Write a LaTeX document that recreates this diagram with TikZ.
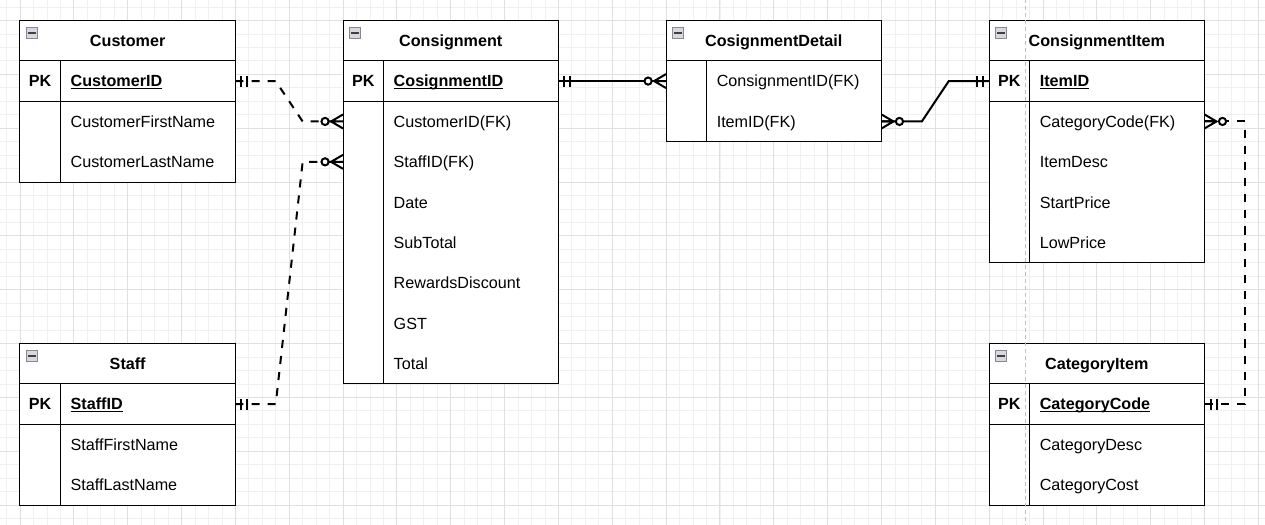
\documentclass[tikz,border=0pt]{standalone}
\usepackage{fontspec}
\setmainfont{Liberation Sans}
\usetikzlibrary{calc}
\definecolor{gridminor}{RGB}{240,240,240}
\definecolor{gridmajor}{RGB}{224,224,224}
\definecolor{pageline}{RGB}{192,192,192}
\definecolor{iconfill}{RGB}{216,216,222}
\definecolor{icondraw}{RGB}{135,135,150}
\newcommand{\keyul}[1]{\setbox0\hbox{#1}\rlap{\rule[-2pt]{\wd0}{1.3pt}}\box0}
\tikzset{
  tbl/.style={draw=black, fill=white, line width=1pt, rectangle, inner sep=0pt, outer sep=0pt, anchor=north west, minimum width=215.36pt},
  tblline/.style={draw=black, line width=1pt},
  titletxt/.style={font=\fontsize{16.15}{19}\selectfont\bfseries, inner sep=0pt, text height=11.6pt, text depth=0pt},
  rowtxt/.style={font=\fontsize{16.15}{19}\selectfont, inner sep=0pt, anchor=west, text height=11.6pt, text depth=0pt},
  keytxt/.style={rowtxt, font=\fontsize{16.15}{19}\selectfont\bfseries},
  icon/.style={draw=icondraw, fill=iconfill, line width=0.8pt, minimum width=11.4pt, minimum height=11pt, inner sep=0pt},
  iconbar/.style={draw=black!75, line width=1.8pt},
  gridmin/.style={draw=gridminor, line width=0.8pt},
  gridmaj/.style={draw=gridmajor, line width=0.9pt},
  conn/.style={draw=black, line width=2pt, line join=miter},
  erdash/.style={dash pattern=on 8.075pt off 8.075pt},
  mandone/.pic={\draw[solid, line width=2pt] (6pt,-5.5pt) -- (6pt,5.5pt) (12pt,-5.5pt) -- (12pt,5.5pt);},
  zeromany/.pic={\draw[solid, line width=2pt, line join=miter] (0,7pt) -- (12pt,0) -- (0,-7pt) (0,0) -- (12pt,0);
                 \draw[solid, line width=2pt, fill=white] (18pt,0) circle (3.6pt);},
}
\newcommand{\ertitle}[4]{%
  \node[titletxt] (#1-title) at (#2+80,#3+15) {#4};
  \node[icon] (#1-icon) at (#2+8.8,#3+9.1) {};
  \draw[iconbar] ([xshift=2.3pt]#1-icon.west) -- ([xshift=-2.3pt]#1-icon.east);
}
\begin{document}
\begin{tikzpicture}[x=1.346pt, y=-1.346pt]
\useasboundingbox (-14.859,-15.230) rectangle (924.96,374.07);
\fill[white] (-14.859,-15.230) rectangle (924.96,374.07);
% grid
\begin{scope}
\clip (-14.859,-15.230) rectangle (924.96,374.07);
\foreach \gx in {-10,0,...,930} \draw[gridmin] (\gx,-20) -- (\gx,380);
\foreach \gy in {-10,0,...,380} \draw[gridmin] (-20,\gy) -- (930,\gy);
\foreach \gx in {-40,0,...,920} \draw[gridmaj] (\gx,-20) -- (\gx,380);
\foreach \gy in {0,40,...,360} \draw[gridmaj] (-20,\gy) -- (930,\gy);
\end{scope}

% ---------- Customer ----------
\node[tbl, minimum height=161.52pt] (cust) at (0,0) {};
\draw[tblline] (0,30) -- (160,30) (0,60) -- (160,60) (30,30) -- (30,120);
\ertitle{cust}{0}{0}{Customer}
\node[titletxt] (cust-pkl) at (15,45) {PK};
\node[keytxt] (cust-pk) at (37.5,45) {\keyul{CustomerID}};
\node[rowtxt] (cust-r1) at (37.5,75) {CustomerFirstName};
\node[rowtxt] (cust-r2) at (37.5,105) {CustomerLastName};

% ---------- Staff ----------
\node[tbl, minimum height=161.52pt] (staff) at (0,240) {};
\draw[tblline] (0,270) -- (160,270) (0,300) -- (160,300) (30,270) -- (30,360);
\ertitle{staff}{0}{240}{Staff}
\node[titletxt] (staff-pkl) at (15,285) {PK};
\node[keytxt] (staff-pk) at (37.5,285) {\keyul{StaffID}};
\node[rowtxt] (staff-r1) at (37.5,315) {StaffFirstName};
\node[rowtxt] (staff-r2) at (37.5,345) {StaffLastName};

% ---------- Consignment ----------
\node[tbl, minimum height=363.42pt] (cons) at (240,0) {};
\draw[tblline] (240,30) -- (400,30) (240,60) -- (400,60) (270,30) -- (270,270);
\ertitle{cons}{240}{0}{Consignment}
\node[titletxt] (cons-pkl) at (255,45) {PK};
\node[keytxt] (cons-pk) at (277.5,45) {\keyul{CosignmentID}};
\node[rowtxt] (cons-r1) at (277.5,75) {CustomerID(FK)};
\node[rowtxt] (cons-r2) at (277.5,105) {StaffID(FK)};
\node[rowtxt] (cons-r3) at (277.5,135) {Date};
\node[rowtxt] (cons-r4) at (277.5,165) {SubTotal};
\node[rowtxt] (cons-r5) at (277.5,195) {RewardsDiscount};
\node[rowtxt] (cons-r6) at (277.5,225) {GST};
\node[rowtxt] (cons-r7) at (277.5,255) {Total};

% ---------- CosignmentDetail ----------
\node[tbl, minimum height=121.14pt] (det) at (480,0) {};
\draw[tblline] (480,30) -- (640,30) (510,30) -- (510,90);
\ertitle{det}{480}{0}{CosignmentDetail}
\node[rowtxt] (det-r0) at (517.5,45) {ConsignmentID(FK)};
\node[rowtxt] (det-r1) at (517.5,75) {ItemID(FK)};

% ---------- ConsignmentItem ----------
\node[tbl, minimum height=242.28pt] (item) at (720,0) {};
\draw[tblline] (720,30) -- (880,30) (720,60) -- (880,60) (750,30) -- (750,180);
\ertitle{item}{720}{0}{ConsignmentItem}
\node[titletxt] (item-pkl) at (735,45) {PK};
\node[keytxt] (item-pk) at (757.5,45) {\keyul{ItemID}};
\node[rowtxt] (item-r1) at (757.5,75) {CategoryCode(FK)};
\node[rowtxt] (item-r2) at (757.5,105) {ItemDesc};
\node[rowtxt] (item-r3) at (757.5,135) {StartPrice};
\node[rowtxt] (item-r4) at (757.5,165) {LowPrice};

% ---------- CategoryItem ----------
\node[tbl, minimum height=161.52pt] (cat) at (720,240) {};
\draw[tblline] (720,270) -- (880,270) (720,300) -- (880,300) (750,270) -- (750,360);
\ertitle{cat}{720}{240}{CategoryItem}
\node[titletxt] (cat-pkl) at (735,285) {PK};
\node[keytxt] (cat-pk) at (757.5,285) {\keyul{CategoryCode}};
\node[rowtxt] (cat-r1) at (757.5,315) {CategoryDesc};
\node[rowtxt] (cat-r2) at (757.5,345) {CategoryCost};

% page break line
\draw[pageline, line width=1pt, dash pattern=on 4pt off 3pt] (747.2,-16) -- (747.2,375);

% ---------- connectors ----------
\draw[conn, erdash] (cust.east |- cust-pk) -- ++(30,0) -- ($(cons.west |- cons-r1)+(-30,0)$) -- (cons.west |- cons-r1);
\path (cust.east |- cust-pk) pic {mandone};
\path (cons.west |- cons-r1) pic[rotate=180] {zeromany};

\draw[conn, erdash] (staff.east |- staff-pk) -- ++(30,0) -- ($(cons.west |- cons-r2)+(-30,0)$) -- (cons.west |- cons-r2);
\path (staff.east |- staff-pk) pic {mandone};
\path (cons.west |- cons-r2) pic[rotate=180] {zeromany};

\draw[conn] (cons.east |- cons-pk) -- (det.west |- det-r0);
\path (cons.east |- cons-pk) pic {mandone};
\path (det.west |- det-r0) pic[rotate=180] {zeromany};

\draw[conn] (det.east |- det-r1) -- ++(30,0) -- ($(item.west |- item-pk)+(-30,0)$) -- (item.west |- item-pk);
\path (det.east |- det-r1) pic {zeromany};
\path (item.west |- item-pk) pic[rotate=180] {mandone};

\draw[conn, erdash] (item.east |- item-r1) -- ++(30,0) -- ($(cat.east |- cat-pk)+(30,0)$) -- (cat.east |- cat-pk);
\path (item.east |- item-r1) pic {zeromany};
\path (cat.east |- cat-pk) pic {mandone};
\end{tikzpicture}
\end{document}
